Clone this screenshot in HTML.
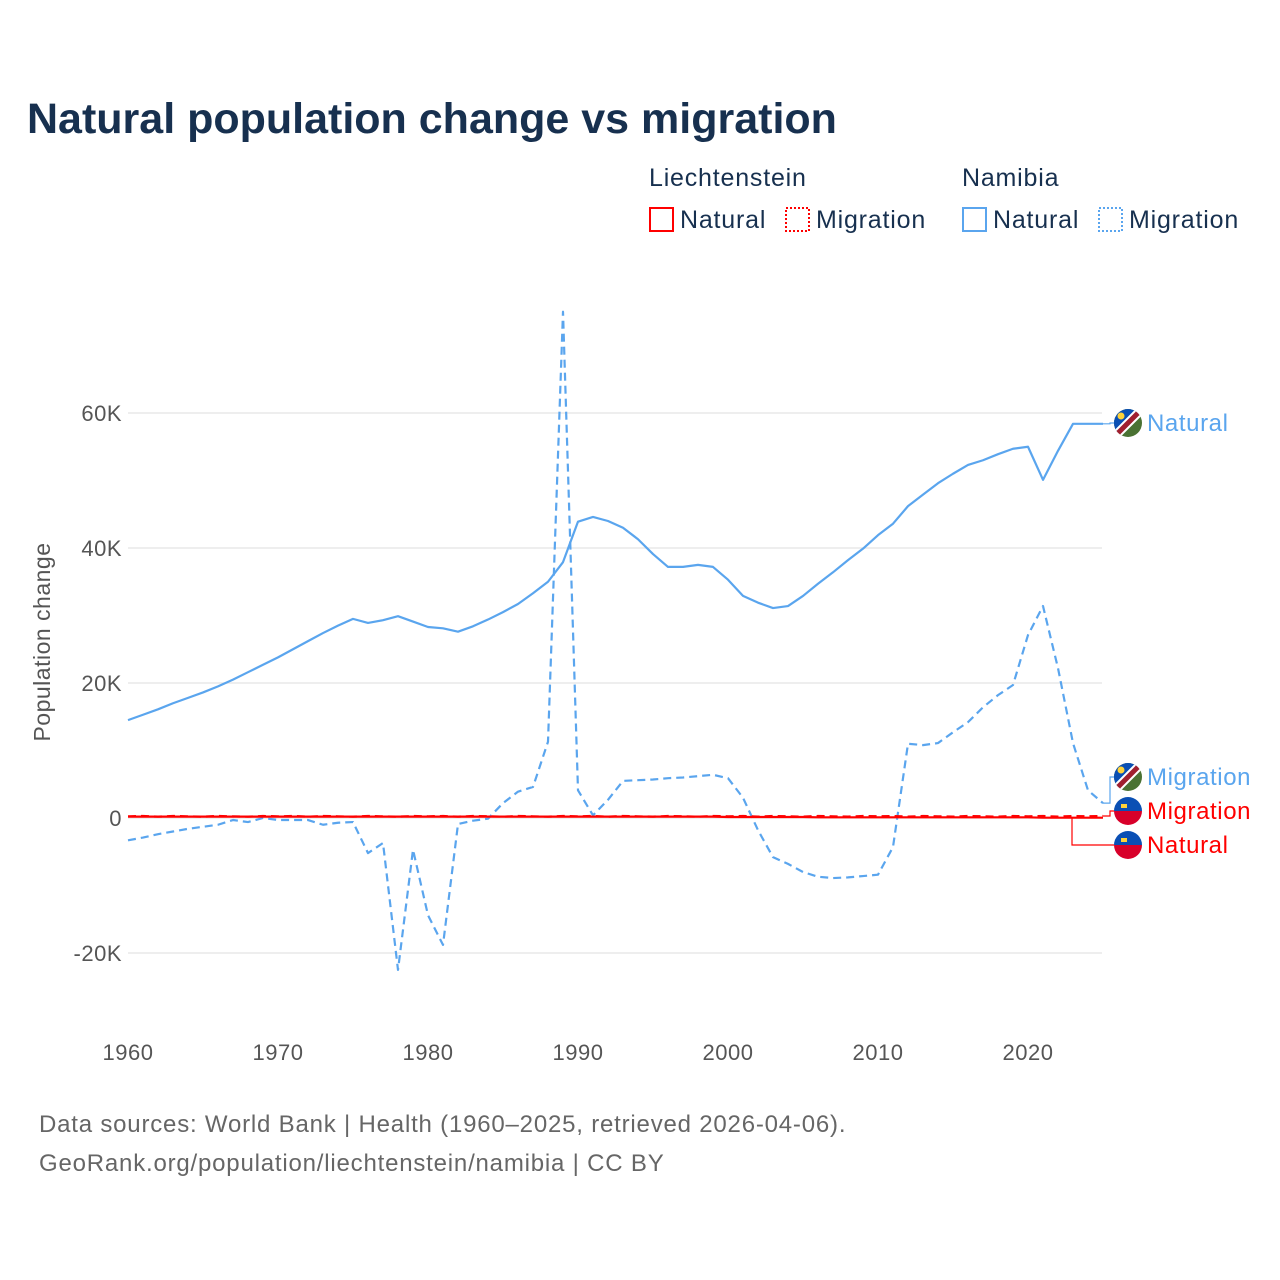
<!DOCTYPE html>
<html><head><meta charset="utf-8"><style>
body{margin:0;background:#fff;}
svg{display:block;font-family:"Liberation Sans",sans-serif;}
</style></head><body>
<svg id="chart" width="1280" height="1280" viewBox="0 0 1280 1280">
<text x="27" y="133" font-size="43" font-weight="bold" fill="#17304f">Natural population change vs migration</text>
<g font-size="25" fill="#17304f" letter-spacing="0.8">
<text x="649" y="186">Liechtenstein</text>
<text x="962" y="186">Namibia</text>
<g><rect x="650" y="208" width="23" height="23" fill="none" stroke="#f00" stroke-width="2"/><text x="680" y="228">Natural</text></g>
<g><rect x="786" y="208" width="23" height="23" fill="none" stroke="#f00" stroke-width="2" stroke-dasharray="2,2"/><text x="816" y="228">Migration</text></g>
<g><rect x="963" y="208" width="23" height="23" fill="none" stroke="#5aa5ee" stroke-width="2"/><text x="993" y="228">Natural</text></g>
<g><rect x="1099" y="208" width="23" height="23" fill="none" stroke="#5aa5ee" stroke-width="2" stroke-dasharray="2,2"/><text x="1129" y="228">Migration</text></g>
</g>
<g id="grid"></g>
<g id="series"></g>
<g id="ends"></g>
<text transform="translate(50,642) rotate(-90)" text-anchor="middle" font-size="23" fill="#555" letter-spacing="0.5">Population change</text>
<text x="39" y="1132" font-size="24" fill="#666" letter-spacing="0.8">Data sources: World Bank | Health (1960–2025, retrieved 2026-04-06).</text>
<text x="39" y="1171" font-size="24" fill="#666" letter-spacing="0.8">GeoRank.org/population/liechtenstein/namibia | CC BY</text>
</svg>
<script>
const years=[];for(let y=1960;y<=2025;y++)years.push(y);
const namNatural=[14.5,15.3,16.1,17,17.8,18.6,19.5,20.5,21.6,22.7,23.8,25,26.2,27.4,28.5,29.5,28.9,29.3,29.9,29.1,28.3,28.1,27.6,28.4,29.4,30.5,31.7,33.3,35,37.9,43.9,44.6,44,43,41.3,39.1,37.2,37.2,37.5,37.2,35.3,32.9,31.9,31.1,31.4,32.9,34.7,36.4,38.2,39.9,41.9,43.6,46.2,47.9,49.6,51,52.3,53,53.9,54.7,55,50.1,54.4,58.4,58.4,58.4];
const namMigration=[-3.3,-2.9,-2.4,-2,-1.6,-1.3,-1,-0.3,-0.6,0,-0.3,-0.3,-0.3,-1,-0.7,-0.6,-5.2,-3.7,-22.5,-4.7,-14.4,-18.8,-0.9,-0.4,-0.1,2.2,3.9,4.6,11.3,75,4.1,0.4,2.7,5.5,5.6,5.7,5.9,6,6.2,6.4,5.9,3,-1.8,-5.8,-6.8,-8,-8.7,-8.9,-8.8,-8.6,-8.4,-4.3,11,10.8,11.1,12.7,14.2,16.4,18.2,19.7,27.1,31.4,22.2,11.1,4.1,2.2];
const lieNatural=[0.2,0.2,0.2,0.2,0.2,0.2,0.2,0.2,0.2,0.2,0.2,0.2,0.2,0.2,0.2,0.2,0.2,0.2,0.2,0.2,0.2,0.2,0.2,0.2,0.2,0.2,0.2,0.2,0.2,0.2,0.2,0.2,0.2,0.2,0.2,0.2,0.2,0.2,0.2,0.2,0.15,0.15,0.15,0.15,0.15,0.15,0.1,0.1,0.1,0.1,0.1,0.1,0.1,0.1,0.1,0.1,0.1,0.1,0.1,0.1,0.1,0.05,0.05,0.05,0.05,0.05];
const lieMigration=[0.25,0.3,0.2,0.3,0.25,0.2,0.3,0.25,0.2,0.3,0.25,0.3,0.2,0.3,0.25,0.2,0.3,0.25,0.2,0.3,0.25,0.3,0.2,0.3,0.25,0.2,0.3,0.25,0.2,0.3,0.25,0.3,0.2,0.3,0.25,0.2,0.3,0.25,0.2,0.3,0.25,0.3,0.2,0.3,0.25,0.2,0.3,0.25,0.2,0.3,0.25,0.3,0.2,0.3,0.25,0.2,0.3,0.25,0.2,0.3,0.25,0.3,0.2,0.3,0.25,0.3];
const yTicks=[-20,0,20,40,60];
const yTickLabels=["-20K","0","20K","40K","60K"];
const xTicks=[1960,1970,1980,1990,2000,2010,2020];
const X=y=>128+15*(y-1960);
const Y=v=>818-6.75*v;
const NS="http://www.w3.org/2000/svg";
function mk(tag,attrs,parent){const e=document.createElementNS(NS,tag);for(const k in attrs)e.setAttribute(k,attrs[k]);parent.appendChild(e);return e;}
const grid=document.getElementById('grid');
yTicks.forEach((t,i)=>{
 const l=mk('line',{x1:128,x2:1102,y1:Y(t),y2:Y(t),stroke:'#e8e8e8','stroke-width':1.5},grid);
 
 
 const tx=mk('text',{x:122,y:Y(t)+8,'text-anchor':'end','font-size':22,fill:'#555','letter-spacing':0.5},grid);
 tx.textContent=yTickLabels[i];
 
 
});
xTicks.forEach(t=>{
 const tx=mk('text',{x:X(t),y:1060,'text-anchor':'middle','font-size':22,fill:'#555','letter-spacing':0.5},grid);
 tx.textContent=t;
 
 
});
const ser=document.getElementById('series');
function line(vals,color,dash,name){
 const d=vals.map((v,i)=>(i?'L':'M')+X(years[i])+','+Y(v)).join('');
 const p=mk('path',{d:d,fill:'none',stroke:color,'stroke-width':2.2,'stroke-dasharray':dash||'none','stroke-linejoin':'round'},ser);
 
 
}
line(namNatural,'#5aa5ee',null,'namibia-natural-line');
line(namMigration,'#5aa5ee','8,5','namibia-migration-line');
line(lieNatural,'#f00',null,'liechtenstein-natural-line');
line(lieMigration,'#f00','8,5','liechtenstein-migration-line');
const ends=document.getElementById('ends');
function endLabel(v,ly,color,label,flag,name,bx){
 const x0=X(2025);
 mk('polyline',{points:`${x0},${Y(v)} ${bx},${Y(v)} ${bx},${ly} 1114,${ly}`,fill:'none',stroke:color,'stroke-width':1.2},ends);
 const g=mk('g',{},ends);
 
 
 const cx=1128,cy=ly,r=14;
 const cp='clip-'+name;
 const dfs=mk('clipPath',{id:cp},g);mk('circle',{cx:cx,cy:cy,r:r},dfs);
 const f=mk('g',{'clip-path':`url(#${cp})`},g);
 if(flag==='nam'){
  mk('rect',{x:cx-r,y:cy-r,width:2*r,height:2*r,fill:'#4a7233'},f);
  mk('polygon',{points:`${cx-r},${cy-r} ${cx+r},${cy-r} ${cx-r},${cy+r}`,fill:'#0a4fb4'},f);
  mk('line',{x1:cx-r,y1:cy+r,x2:cx+r,y2:cy-r,stroke:'#fff',"stroke-width":9},f);
  mk('line',{x1:cx-r,y1:cy+r,x2:cx+r,y2:cy-r,stroke:'#a01f2f',"stroke-width":5},f);
  mk('circle',{cx:cx-7,cy:cy-7,r:3.5,fill:'#ffd23a'},f);
 }else{
  mk('rect',{x:cx-r,y:cy-r,width:2*r,height:r,fill:'#0a4fb4'},f);
  mk('rect',{x:cx-r,y:cy,width:2*r,height:r,fill:'#d8002a'},f);
  mk('rect',{x:cx-7,y:cy-7,width:6,height:4,fill:'#ffd23a'},f);
 }
 const t=mk('text',{x:1147,y:ly+8,'font-size':24,fill:color,'letter-spacing':0.6},g);
 t.textContent=label;
}
endLabel(namNatural[65],423,'#5aa5ee','Natural','nam','end-label-namibia-natural',1110);
endLabel(namMigration[65],777,'#5aa5ee','Migration','nam','end-label-namibia-migration',1110);
endLabel(lieMigration[65],811,'#f00','Migration','lie','end-label-liechtenstein-migration',1110);
endLabel(lieNatural[65],845,'#f00','Natural','lie','end-label-liechtenstein-natural',1072);
</script>
</body></html>
